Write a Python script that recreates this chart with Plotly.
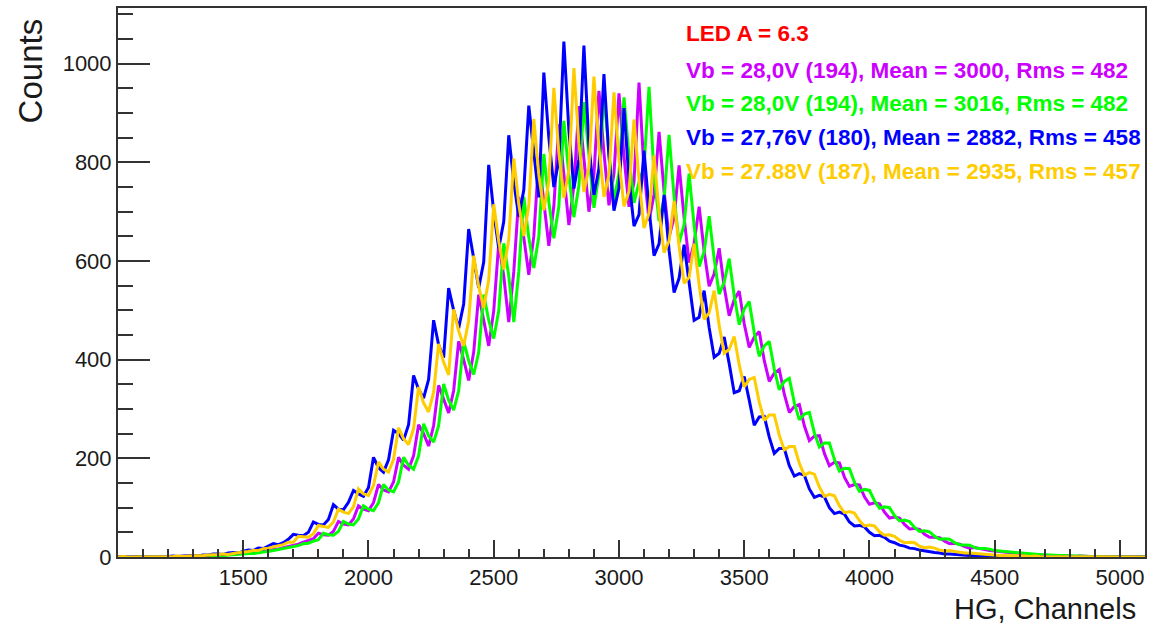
import plotly.graph_objects as go

# Histogram bins (left edge, HG channels), 20-channel bins from 1000 to 5100
bin_start = 1000
bin_width = 20
n_bins = 206
channels = [bin_start + i * bin_width for i in range(n_bins)]

# Counts (Vb = 28,0V run 1, magenta)
counts_magenta = [
    0, 0, 1, 0, 0, 0, 1, 0, 0, 1,
    1, 0, 1, 1, 2, 1, 2, 2, 3, 3,
    3, 4, 5, 5, 6, 7, 8, 9, 10, 11,
    13, 15, 16, 19, 21, 24, 26, 30, 33, 37,
    48, 45, 44, 52, 72, 67, 65, 77, 104, 97,
    94, 110, 147, 136, 132, 152, 202, 186, 178, 205,
    268, 250, 225, 266, 348, 322, 292, 337, 437, 400,
    358, 415, 532, 480, 428, 499, 636, 570, 476, 578,
    730, 648, 572, 650, 809, 720, 631, 711, 877, 775,
    673, 753, 914, 808, 700, 776, 945, 820, 713, 778,
    940, 812, 710, 760, 962, 785, 682, 735, 862, 742,
    649, 688, 794, 688, 597, 636, 710, 620, 549, 574,
    626, 548, 489, 522, 539, 473, 425, 446, 457, 398,
    356, 373, 380, 330, 293, 305, 309, 266, 236, 245,
    246, 210, 185, 192, 191, 162, 143, 147, 146, 122,
    107, 110, 108, 91, 79, 81, 79, 66, 57, 58,
    56, 46, 40, 40, 39, 32, 27, 28, 26, 21,
    18, 19, 17, 14, 13, 12, 11, 10, 8, 8,
    7, 6, 5, 5, 4, 4, 3, 3, 2, 2,
    2, 1, 2, 1, 1, 1, 0, 1, 1, 0,
    0, 1, 0, 0, 0, 0,
]

# Vb = 28,0V run 2 (green)
counts_green = [
    0, 0, 0, 1, 0, 0, 0, 1, 0, 0,
    0, 1, 1, 0, 1, 1, 2, 1, 2, 3,
    3, 3, 4, 4, 5, 6, 7, 7, 9, 10,
    11, 13, 14, 17, 18, 21, 23, 27, 28, 32,
    35, 48, 45, 44, 52, 72, 67, 65, 77, 104,
    97, 94, 110, 147, 136, 132, 152, 202, 186, 178,
    205, 270, 246, 233, 266, 351, 318, 298, 337, 437,
    398, 370, 415, 532, 480, 443, 499, 636, 570, 476,
    578, 730, 648, 586, 650, 817, 720, 646, 711, 884,
    775, 689, 753, 922, 808, 708, 776, 937, 820, 721,
    778, 932, 812, 718, 760, 790, 953, 775, 681, 725,
    856, 730, 637, 674, 777, 672, 589, 619, 691, 605,
    533, 557, 605, 530, 471, 503, 518, 455, 407, 428,
    437, 381, 339, 356, 362, 313, 278, 290, 293, 252,
    223, 231, 231, 198, 174, 180, 179, 152, 133, 137,
    135, 114, 99, 102, 100, 84, 73, 75, 72, 60,
    52, 53, 51, 42, 36, 37, 36, 29, 25, 25,
    24, 19, 17, 17, 16, 13, 12, 11, 10, 9,
    8, 7, 6, 6, 5, 4, 4, 3, 3, 3,
    2, 2, 2, 1, 1, 1, 1, 1, 0, 1,
    0, 0, 1, 0, 0, 0,
]

# Vb = 27,76V (blue)
counts_blue = [
    0, 0, 1, 0, 0, 1, 0, 1, 1, 0,
    1, 2, 1, 2, 3, 3, 2, 4, 4, 6,
    6, 5, 8, 9, 8, 12, 14, 13, 18, 17,
    22, 27, 25, 29, 36, 46, 44, 43, 50, 71,
    66, 65, 76, 106, 97, 96, 111, 135, 128, 123,
    141, 202, 181, 172, 197, 257, 250, 237, 268, 368,
    340, 322, 360, 480, 430, 404, 545, 500, 464, 513,
    665, 605, 546, 598, 795, 700, 626, 680, 855, 760,
    690, 744, 915, 820, 729, 982, 850, 750, 805, 1045,
    865, 747, 806, 1037, 835, 734, 787, 979, 812, 702,
    748, 910, 765, 671, 694, 824, 705, 611, 635, 734,
    622, 536, 565, 633, 560, 480, 486, 540, 465, 405,
    413, 446, 392, 333, 337, 366, 318, 267, 284, 285,
    243, 210, 220, 220, 185, 164, 169, 166, 138, 121,
    125, 122, 100, 88, 91, 87, 71, 63, 64, 61,
    50, 43, 44, 40, 32, 29, 24, 22, 18, 17,
    14, 12, 10, 9, 8, 6, 6, 5, 4, 4,
    3, 3, 2, 2, 2, 1, 1, 1, 0, 1,
    0, 1, 0, 0, 1, 0, 0, 0, 0, 0,
    0, 0, 0, 0, 0, 0, 0, 0, 0, 0,
    0, 0, 0, 0, 0, 0,
]

# Vb = 27.88V (orange)
counts_orange = [
    0, 1, 0, 0, 0, 1, 0, 0, 1, 0,
    1, 1, 2, 1, 2, 2, 3, 3, 4, 4,
    5, 6, 5, 7, 9, 10, 11, 13, 13, 17,
    18, 21, 23, 25, 30, 30, 42, 41, 40, 47,
    64, 62, 60, 71, 97, 91, 88, 102, 138, 128,
    125, 145, 193, 178, 172, 198, 262, 240, 228, 260,
    345, 312, 294, 334, 432, 395, 369, 502, 458, 428,
    479, 611, 548, 505, 562, 715, 640, 583, 643, 808,
    715, 651, 712, 888, 775, 703, 761, 951, 820, 728,
    784, 991, 838, 740, 790, 974, 830, 730, 775, 942,
    805, 711, 741, 887, 765, 667, 697, 814, 700, 617,
    641, 722, 630, 555, 567, 635, 552, 482, 495, 540,
    470, 413, 421, 447, 390, 345, 360, 364, 314, 277,
    288, 288, 247, 217, 224, 224, 190, 166, 171, 168,
    142, 123, 127, 124, 104, 90, 92, 89, 74, 63,
    65, 63, 51, 44, 45, 42, 34, 29, 30, 29,
    22, 19, 20, 18, 14, 12, 13, 11, 9, 8,
    8, 7, 6, 5, 5, 4, 3, 3, 3, 2,
    2, 2, 1, 2, 1, 1, 1, 1, 0, 1,
    0, 1, 0, 0, 1, 0, 0, 0, 1, 0,
    0, 0, 0, 0, 0, 0,
]

legend_title = "LED A = 6.3"
series_labels = [
    "Vb = 28,0V (194), Mean = 3000, Rms = 482",
    "Vb = 28,0V (194), Mean = 3016, Rms = 482",
    "Vb = 27,76V (180), Mean = 2882, Rms = 458",
    "Vb = 27.88V (187), Mean = 2935, Rms = 457",
]
series_colors = ["#cc00ff", "#00ff00", "#0000ff", "#ffcc00"]
series_counts = [counts_magenta, counts_green, counts_blue, counts_orange]

x_major = [1000, 1500, 2000, 2500, 3000, 3500, 4000, 4500, 5000]
x_major_text = ["", "1500", "2000", "2500", "3000", "3500", "4000", "4500", "5000"]
y_major = [0, 200, 400, 600, 800, 1000]

fig = go.Figure()
for lab, col, cts in zip(series_labels, series_colors, series_counts):
    assert len(cts) == n_bins
    fig.add_trace(go.Scatter(
        x=channels, y=cts, mode="lines", name=lab,
        line=dict(color=col, width=3),
        showlegend=False, hoverinfo="x+y",
    ))

FONT = "Liberation Sans, Arial, sans-serif"
axis_col = "#333333"

fig.update_layout(
    width=1153, height=624,
    margin=dict(l=118, r=6, t=7, b=67),
    paper_bgcolor="white", plot_bgcolor="white",
    font=dict(family=FONT, size=22, color="#1a1a1a"),
    xaxis=dict(
        range=[1000, 5100], showgrid=False, zeroline=False,
        showline=True, linecolor=axis_col, linewidth=2, mirror=True,
        tickmode="array", tickvals=x_major, ticktext=x_major_text,
        ticks="inside", ticklen=17, tickwidth=1.5, tickcolor=axis_col,
        minor=dict(tickmode="linear", tick0=1000, dtick=100, ticks="inside",
                   ticklen=8, tickwidth=1.5, tickcolor=axis_col),
        tickfont=dict(size=22, color="#1a1a1a"),
    ),
    yaxis=dict(
        range=[0, 1113], showgrid=False, zeroline=False,
        showline=True, linecolor=axis_col, linewidth=2, mirror=True,
        tickmode="array", tickvals=y_major,
        ticks="inside", ticklen=32, tickwidth=1.5, tickcolor=axis_col,
        minor=dict(tickmode="linear", tick0=0, dtick=50, ticks="inside",
                   ticklen=15, tickwidth=1.5, tickcolor=axis_col),
        tickfont=dict(size=22, color="#1a1a1a"),
    ),
)

# axis titles (ROOT style, right / top aligned)
fig.add_annotation(text="HG, Channels", xref="paper", yref="paper",
                   x=0.993, y=-0.062, xanchor="right", yanchor="top",
                   showarrow=False, font=dict(size=29, color="#1a1a1a", family=FONT))
fig.add_annotation(text="Counts", xref="paper", yref="paper",
                   x=-0.105, y=0.985, xanchor="left", yanchor="top", textangle=-90,
                   showarrow=False, font=dict(size=33, color="#1a1a1a", family=FONT))

# legend-like text block
text_rows = [legend_title] + series_labels
text_cols = ["#ff0000"] + series_colors
text_y = [0.9527, 0.8855, 0.8255, 0.7636, 0.7018]
for t, c, yy in zip(text_rows, text_cols, text_y):
    fig.add_annotation(text="<b>%s</b>" % t, xref="paper", yref="paper",
                       x=0.551, y=yy, xanchor="left", yanchor="middle",
                       showarrow=False, font=dict(size=22.5, color=c, family=FONT))

fig.write_html("out.html", config={"displayModeBar": False},
               post_script="document.body.style.margin='0';")
